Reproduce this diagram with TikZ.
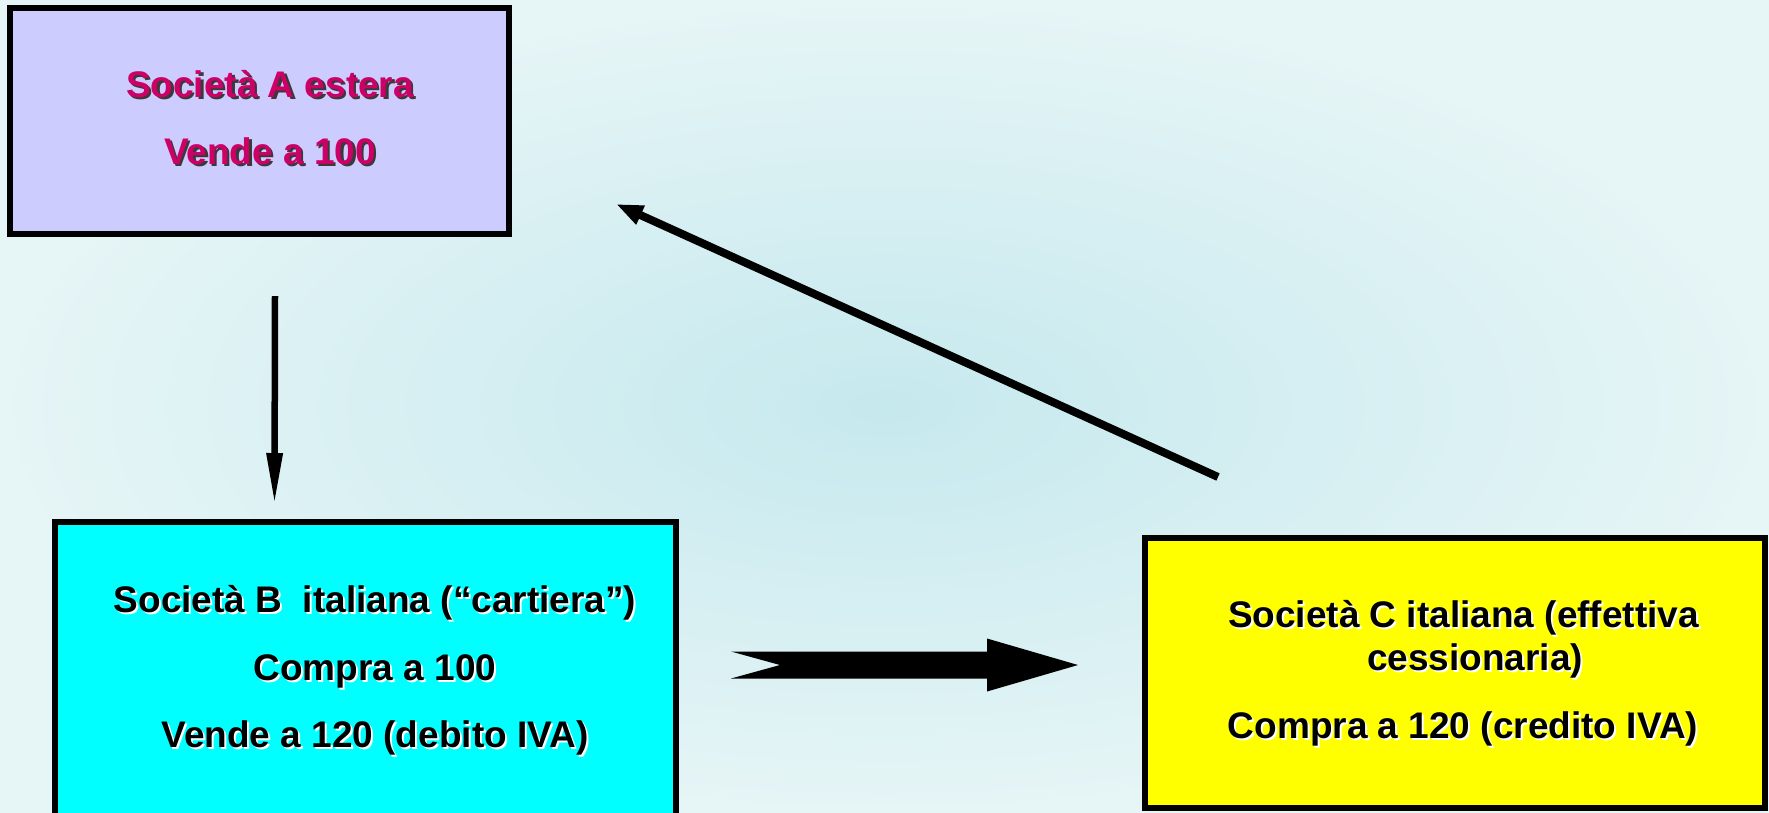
\documentclass[tikz,border=0pt]{standalone}
\usepackage{fontspec}
\setmainfont{Liberation Sans}
\usetikzlibrary{arrows.meta,calc}
\definecolor{bginner}{HTML}{C6E9EE}
\definecolor{bgouter}{HTML}{E6F5F6}
\definecolor{boxAfill}{HTML}{CCCCFF}
\definecolor{textA}{HTML}{CC0066}
\definecolor{shadowA}{HTML}{3A3A3A}
\definecolor{cyanfill}{HTML}{00FFFF}
\definecolor{yellowfill}{HTML}{FFFF00}
\begin{document}
\begin{tikzpicture}[x=1pt,y=-1pt,
  company/.style={draw=black, line width=6pt, inner sep=0pt, rectangle},
  lbl/.style={font=\fontsize{37}{44}\selectfont\bfseries, inner sep=0pt, anchor=base},
  lblA/.style={lbl, text=textA},
  lblAshadow/.style={lbl, text=shadowA},
  lblB/.style={lbl, text=black},
  lblBshadow/.style={lbl, text=white},
  thinarrow/.style={draw=black, line width=6.5pt, -{Triangle[length=52pt,width=15pt]}},
  diagarrow/.style={draw=black, line width=8pt, -{Triangle[length=27pt,width=19pt]}},
  fatarrow/.style={fill=black}
]
\useasboundingbox (0,0) rectangle (1769,812);
\clip (0,0) rectangle (1769,812);
\shade[inner color=bginner, outer color=bgouter] (0,0) rectangle (1769,812);

% boxes
\node[company, fill=boxAfill, minimum width=499pt, minimum height=226pt] (A) at (259.5,121) {};
\node[company, fill=cyanfill, minimum width=621pt, minimum height=318pt] (B) at (365.5,681) {};
\node[company, fill=yellowfill, minimum width=620pt, minimum height=270pt] (C) at (1455,673) {};

% texts of A
\node[lblAshadow] (a1s) at (272.5,99.5) {Società A estera};
\node[lblA] (a1) at (270,97) {Società A estera};
\node[lblAshadow] (a2s) at (272.5,166.5) {Vende a 100};
\node[lblA] (a2) at (270,164) {Vende a 100};

% texts of B
\node[lblBshadow] (b1s) at (377,614) {Società B~~italiana (“cartiera”)};
\node[lblB] (b1) at (375,612) {Società B~~italiana (“cartiera”)};
\node[lblBshadow] (b2s) at (377,682) {Compra a 100};
\node[lblB] (b2) at (375,680) {Compra a 100};
\node[lblBshadow] (b3s) at (377,749) {Vende a 120 (debito IVA)};
\node[lblB] (b3) at (375,747) {Vende a 120 (debito IVA)};

% texts of C
\node[lblBshadow] (c1s) at (1465.5,629) {Società C italiana (effettiva};
\node[lblB] (c1) at (1463.5,627) {Società C italiana (effettiva};
\node[lblBshadow] (c2s) at (1477,672) {cessionaria)};
\node[lblB] (c2) at (1475,670) {cessionaria)};
\node[lblBshadow] (c3s) at (1465,740) {Compra a 120 (credito IVA)};
\node[lblB] (c3) at (1463,738) {Compra a 120 (credito IVA)};

% connectors
\draw[thinarrow] ($(A.south)+(15.5,59)$) -- ($(B.north)+(-91,-14)$);
\draw[diagarrow] ($(C.north west)+(76,-58)$) -- ($(A.south east)+(104,-33)$);

\coordinate (fa) at ($(B.north east)+(52,146)$);
\coordinate (fb) at ($(C.north west)+(-64,130)$);
\fill[fatarrow] ($(fa)+(0,-13.5)$) -- ($(fb)+(-91,-13.5)$) -- ($(fb)+(-91,-26.5)$) -- (fb)
  -- ($(fb)+(-91,26.5)$) -- ($(fb)+(-91,13.5)$) -- ($(fa)+(0,13.5)$) -- ($(fa)+(49,0)$) -- cycle;
\end{tikzpicture}
\end{document}
